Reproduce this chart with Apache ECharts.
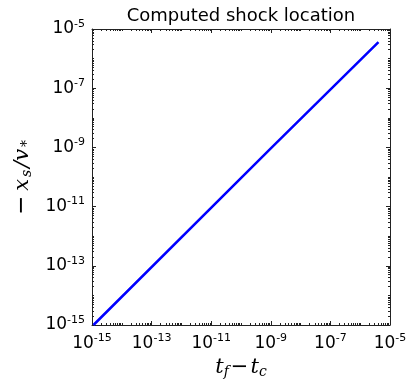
<!DOCTYPE html>
<html><head><meta charset="utf-8">
<script src="https://cdn.jsdelivr.net/npm/echarts@6/dist/echarts.min.js"></script>
<style>html,body{margin:0;padding:0;background:#fff}#c{width:408px;height:381px}</style>
</head><body><div id="c"></div>
<script>
const xValues = [1.12e-15, 1e-9, 4.1e-6];
const yValues = [1.0e-15, 9.3e-10, 3.6e-6];
const majorExps = [-15, -13, -11, -9, -7, -5];
const axisMin = 1e-15, axisMax = 1e-5;

const majorVals = majorExps.map(e => Math.pow(10, e));
const minorVals = [];
for (let e = -15; e < -5; e++) {
  for (let m = 1; m <= 9; m++) {
    if (m === 1 && (e - (-15)) % 2 === 0) continue;
    minorVals.push(m * Math.pow(10, e));
  }
}
const fmt = v => '{b|10}{s|' + Math.round(Math.log10(v)) + '}';
const labelRich = {
  b: {fontFamily: 'DejaVu Sans', fontSize: 17, color: '#000'},
  s: {fontFamily: 'DejaVu Sans', fontSize: 11, color: '#000', verticalAlign: 'top', padding: [0, 0, 10, 0]}
};
function mkAxis(pos, kind, isX) {
  const base = {
    type: 'log', logBase: 10, min: axisMin, max: axisMax, position: pos,
    splitLine: {show: false},
    axisLine: {show: kind === 'major', onZero: false, lineStyle: {color: '#222', width: 1}},
  };
  if (kind === 'major') {
    base.axisTick = {show: true, inside: true, length: 4, customValues: majorVals, lineStyle: {color: '#222'}};
    const showLbl = (isX && pos === 'bottom') || (!isX && pos === 'left');
    base.axisLabel = showLbl ? {show: true, customValues: majorVals, formatter: fmt, rich: labelRich,
      fontFamily: 'DejaVu Sans', fontSize: 17, color: '#000', margin: isX ? 8 : 7} : {show: false};
  } else {
    base.axisTick = {show: true, inside: true, length: 2, customValues: minorVals, lineStyle: {color: '#222'}};
    base.axisLabel = {show: false};
  }
  return base;
}
const xAxes = [mkAxis('bottom', 'major', true), mkAxis('bottom', 'minor', true), mkAxis('top', 'major', true), mkAxis('top', 'minor', true)];
const yAxes = [mkAxis('left', 'major', false), mkAxis('left', 'minor', false), mkAxis('right', 'major', false), mkAxis('right', 'minor', false)];
xAxes[0].name = '{i|t}{sub|f}{m|−}{i|t}{sub|c}';
xAxes[0].nameLocation = 'middle';
xAxes[0].nameGap = 29;
xAxes[0].nameTextStyle = {rich: {
  i: {fontFamily: 'DejaVu Serif', fontStyle: 'italic', fontSize: 21, color: '#000'},
  sub: {fontFamily: 'DejaVu Serif', fontStyle: 'italic', fontSize: 14, color: '#000', verticalAlign: 'bottom', padding: [9, 0, 0, 0]},
  m: {fontFamily: 'DejaVu Sans', fontSize: 21, color: '#000', padding: [0, 2, 0, 2]}
}};
yAxes[0].name = '{m|−}{i|x}{sub|s}{i|/v}{sub|*}';
yAxes[0].nameLocation = 'middle';
yAxes[0].nameGap = 58;
yAxes[0].nameRotate = 90;
yAxes[0].nameTextStyle = {rich: {
  i: {fontFamily: 'DejaVu Serif', fontStyle: 'italic', fontSize: 21, color: '#000', padding: [0, 1, 0, 1]},
  sub: {fontFamily: 'DejaVu Serif', fontStyle: 'italic', fontSize: 14, color: '#000', verticalAlign: 'bottom', padding: [9, 1, 0, 1]},
  m: {fontFamily: 'DejaVu Sans', fontSize: 23, color: '#000', padding: [0, 4, 0, 0]}
}};

const chart = echarts.init(document.getElementById('c'), null, {renderer: 'canvas'});
chart.setOption({
  animation: false,
  backgroundColor: '#fff',
  title: {text: 'Computed shock location', left: 236, top: 2, textAlign: 'center',
    textStyle: {fontFamily: 'DejaVu Sans', fontSize: 18, fontWeight: 'normal', color: '#000'}},
  grid: {left: 92, right: 18, top: 29, bottom: 56, containLabel: false, outerBoundsMode: 'none'},
  xAxis: xAxes,
  yAxis: yAxes,
  series: [{
    type: 'line', xAxisIndex: 0, yAxisIndex: 0,
    data: xValues.map((x, i) => [x, yValues[i]]),
    showSymbol: false, symbol: 'none',
    lineStyle: {color: '#0000ff', width: 2.5}
  }]
});
</script></body></html>
